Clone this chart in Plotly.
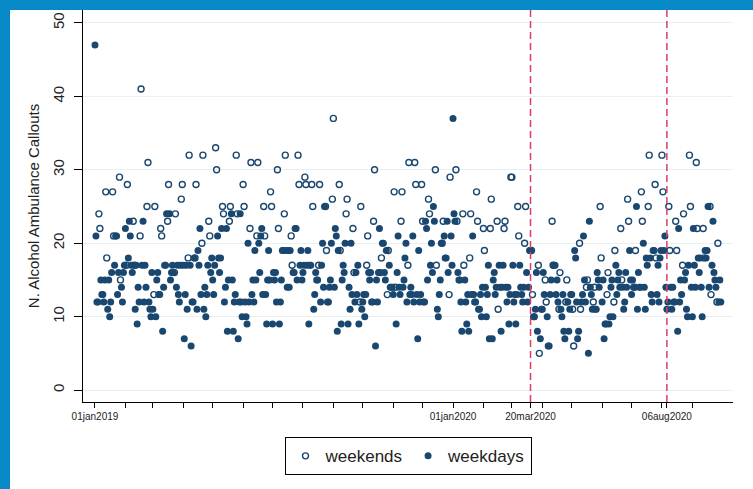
import pandas as pd
import plotly.graph_objects as go

# ---- data ----
# Weekday (Mon-Fri) daily callouts, chronological, 01jan2019 .. 30sep2020
weekday_values = [
    # 2019 Jan
    47, 21, 12, 12, 15, 13, 13, 12, 15, 11, 15, 10, 12, 16, 17, 21, 21, 13, 16, 14, 12, 16, 17,
    # Feb
    22, 18, 23, 21, 17, 16, 11, 17, 9, 14, 12, 17, 23, 12, 17, 14, 12, 11, 10, 16,
    # Mar
    11, 10, 15, 16, 13, 13, 8, 14, 17, 17, 24, 24, 15, 16, 17, 16, 14, 17, 13, 12, 17,
    # Apr
    17, 7, 13, 17, 11, 17, 6, 12, 12, 18, 11, 19, 17, 22, 13, 11, 14, 10, 13, 17, 16, 18,
    # May
    15, 13, 17, 21, 18, 16, 18, 22, 12, 14, 22, 8, 15, 24, 15, 8, 12, 13, 7, 12, 24, 12, 10,
    # Jun
    12, 10, 9, 20, 12, 13, 15, 12, 19, 15, 20, 16, 21, 22, 13, 13, 9, 15, 19, 15,
    # Jul
    9, 16, 15, 16, 12, 9, 12, 15, 19, 19, 19, 14, 19, 14, 19, 16, 16, 22, 22, 15, 17, 19, 15,
    # Aug
    16, 17, 17, 19, 9, 17, 17, 11, 13, 16, 15, 15, 12, 17, 20, 14, 25, 12, 12, 14, 15, 20,
    # Sep
    14, 22, 21, 8, 19, 9, 15, 17, 16, 20, 9, 14, 11, 20, 13, 12, 16, 13, 17, 9, 11,
    # Oct
    12, 13, 10, 13, 16, 15, 16, 12, 12, 6, 15, 12, 16, 22, 20, 20, 16, 15, 19, 17, 14, 14, 14,
    # Nov
    13, 9, 16, 21, 14, 13, 14, 15, 18, 20, 12, 13, 14, 13, 21, 12, 13, 7, 19, 12, 13,
    # Dec
    12, 12, 23, 22, 15, 17, 20, 16, 25, 23, 11, 10, 13, 15, 20, 21, 18, 18, 23, 16, 21, 17,
    # 2020 Jan
    37, 24, 23, 16, 15, 15, 12, 8, 15, 12, 9, 13, 8, 13, 21, 13, 12, 12, 11, 11, 13, 10, 14,
    # Feb
    14, 10, 13, 17, 7, 7, 15, 16, 13, 14, 17, 14, 8, 14, 17, 14, 12, 14, 9, 13,
    # Mar
    17, 12, 13, 9, 13, 17, 14, 13, 12, 14, 16, 12, 14, 19, 19, 10, 10, 11, 16, 8, 7, 11,
    # Apr
    11, 16, 13, 10, 6, 6, 13, 15, 17, 17, 13, 15, 12, 11, 10, 13, 8, 7, 12, 8, 11, 13,
    # May
    13, 19, 18, 12, 7, 8, 12, 13, 21, 15, 12, 5, 23, 14, 13, 11, 11, 11, 16, 15, 14,
    # Jun
    12, 15, 7, 9, 9, 9, 10, 14, 15, 10, 17, 13, 15, 16, 14, 14, 11, 12, 16, 14, 19, 15,
    # Jul
    13, 15, 14, 25, 11, 16, 14, 14, 20, 14, 11, 18, 17, 18, 13, 12, 19, 19, 13, 17, 12, 18, 19,
    # Aug
    19, 21, 14, 11, 12, 14, 11, 14, 12, 12, 8, 22, 12, 15, 13, 15, 16, 11, 10, 17, 14,
    # Sep
    10, 22, 17, 14, 18, 16, 18, 14, 10, 19, 18, 19, 25, 14, 17, 23, 16, 15, 14, 12, 15, 12,
]

# Weekend (Sat-Sun) daily callouts, chronological
weekend_values = [
    # 2019 Jan
    24, 22, 27, 18, 27, 21, 29, 15,
    # Feb
    17, 28, 23, 17, 21, 41, 25, 31,
    # Mar
    13, 25, 22, 21, 23, 28, 16, 24, 26, 28,
    # Apr
    18, 32, 18, 28, 20, 32, 23, 21,
    # May
    33, 30, 25, 24, 23, 25, 32, 24,
    # Jun
    28, 25, 22, 31, 21, 31, 25, 21, 27, 25,
    # Jul
    30, 22, 24, 32, 21, 17, 32, 28,
    # Aug
    29, 28, 28, 25, 17, 28, 25, 19, 26,
    # Sep
    37, 28, 19, 24, 26, 22, 16, 12, 25,
    # Oct
    17, 21, 23, 30, 16, 18, 13, 19,
    # Nov
    27, 14, 23, 27, 17, 31, 31, 28, 28,
    # Dec
    23, 26, 24, 30, 17, 20, 23, 13, 29,
    # 2020 Jan
    30, 23, 24, 17, 18, 24, 27, 23,
    # Feb
    22, 19, 22, 26, 23, 11, 22, 23, 29,
    # Mar
    29, 25, 21, 20, 25, 19, 13, 17, 5,
    # Apr
    15, 12, 23, 17, 11, 16, 12, 15,
    # May
    11, 6, 20, 11, 14, 15, 12, 14, 25, 18,
    # Jun
    13, 16, 12, 19, 22, 15, 26, 23,
    # Jul
    14, 19, 27, 23, 25, 32, 28, 18,
    # Aug
    32, 27, 25, 19, 23, 19, 17, 24, 32, 25,
    # Sep
    31, 22, 22, 18, 25, 13, 12, 20,
]

tick_dates = [
    "2019-01-01", "2019-02-01", "2019-03-01", "2019-04-01", "2019-05-01", "2019-06-01",
    "2019-07-01", "2019-08-01", "2019-09-01", "2019-10-01", "2019-11-01", "2019-12-01",
    "2020-01-01", "2020-02-01", "2020-03-01", "2020-03-20", "2020-04-01", "2020-05-01",
    "2020-06-01", "2020-07-01", "2020-08-01", "2020-08-06", "2020-09-01",
]
tick_labels = [
    "01jan2019", "", "", "", "", "", "", "", "", "", "", "",
    "01jan2020", "", "", "20mar2020", "", "", "", "", "", "06aug2020", "",
]
y_ticks = [0, 10, 20, 30, 40, 50]
marker_lines = ["2020-03-20", "2020-08-06"]

# ---- dates ----
dates = pd.date_range("2019-01-01", "2020-09-30", freq="D")
is_we = dates.dayofweek >= 5
weekend_dates = list(dates[is_we])
weekday_dates = list(dates[~is_we])
nwe = min(len(weekend_dates), len(weekend_values))
nwd = min(len(weekday_dates), len(weekday_values))

NAVY = "#1a476f"
BLUE = "#0689c6"
fig = go.Figure()
fig.add_trace(go.Scatter(
    x=weekend_dates[:nwe], y=weekend_values[:nwe], mode="markers", name="weekends",
    marker=dict(symbol="circle-open", size=6, color=NAVY, line=dict(width=1.4, color=NAVY)),
))
fig.add_trace(go.Scatter(
    x=weekday_dates[:nwd], y=weekday_values[:nwd], mode="markers", name="weekdays",
    marker=dict(symbol="circle", size=7, color=NAVY, line=dict(width=0)),
))

shapes = [
    dict(type="rect", xref="paper", yref="paper", x0=-0.1123, x1=1.0923, y0=-0.3, y1=1.0,
         fillcolor="white", line=dict(width=0), layer="below"),
]
for d in marker_lines:
    shapes.append(dict(type="line", xref="x", yref="paper", x0=d, x1=d, y0=0, y1=1,
                       line=dict(color="#dc3d64", width=1.5, dash="7px,4px")))

fig.update_layout(
    width=753, height=489,
    margin=dict(l=83, r=20, t=10, b=87),
    paper_bgcolor=BLUE,
    plot_bgcolor="white",
    font=dict(family="Arial, Liberation Sans, sans-serif", color="#222"),
    shapes=shapes,
    showlegend=True,
    legend=dict(orientation="h", x=0.5, xanchor="center", y=-0.09, yanchor="top",
                bordercolor="black", borderwidth=1, bgcolor="white",
                font=dict(size=17, color="#222"), itemwidth=30),
)
fig.update_xaxes(
    automargin=False,
    range=["2018-12-19 19:00", "2020-10-12 10:00"],
    tickmode="array", tickvals=tick_dates, ticktext=tick_labels,
    ticks="outside", ticklen=5, tickcolor="black", tickangle=0,
    tickfont=dict(size=10, color="#222"),
    showline=True, linecolor="black", linewidth=1, showgrid=False, zeroline=False,
)
fig.update_yaxes(
    automargin=False,
    range=[-1.63, 51.77],
    tickmode="array", tickvals=y_ticks, ticktext=[str(v) for v in y_ticks],
    ticks="outside", ticklen=8, tickcolor="black", tickangle=-90,
    ticklabelstandoff=4,
    tickfont=dict(size=15, color="#222"),
    showline=True, linecolor="black", linewidth=1,
    showgrid=True, gridcolor="#e8f0f2", gridwidth=1, zeroline=False,
    title=dict(text="N. Alcohol Ambulance Callouts", font=dict(size=15, color="#222"), standoff=6),
)

fig.write_html(
    "out.html",
    config={"displayModeBar": False},
    post_script="document.body.style.margin='0';document.body.style.background='%s';" % BLUE,
)
